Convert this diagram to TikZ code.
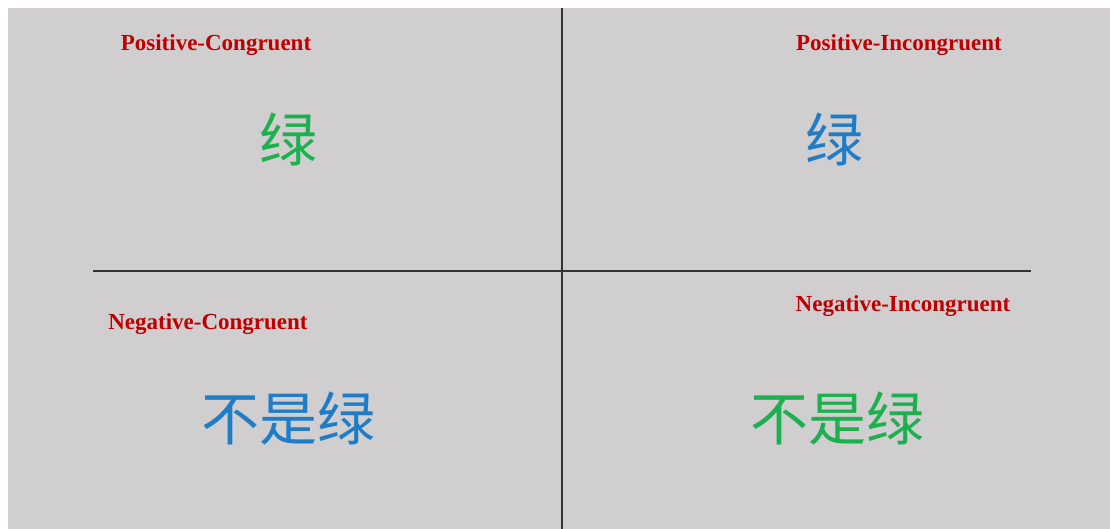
\documentclass[tikz,border=0pt]{standalone}
\usepackage{fontspec}
\setmainfont{Liberation Serif}
\newfontfamily\cjk{Noto Sans CJK SC}
\definecolor{bg}{HTML}{D0CECF}
\definecolor{lab}{HTML}{C00000}
\definecolor{grn}{HTML}{1DB04F}
\definecolor{blu}{HTML}{1F7DC8}
\begin{document}
\begin{tikzpicture}[x=1pt,y=-1pt,
  label/.style={text=lab,font=\fontsize{23}{26}\selectfont\bfseries,inner sep=0pt},
  word/.style={font=\fontsize{58}{62}\selectfont\cjk,inner sep=0pt},
  divider/.style={draw=black!80,line width=1.2pt}]
\useasboundingbox (0,0) rectangle (1110,529);
\fill[white] (0,0) rectangle (1110,529);
\fill[bg] (8,8) rectangle (1111,530);
\coordinate (vt) at (562,8);
\coordinate (vb) at (562,529);
\coordinate (hl) at (93,271);
\coordinate (hr) at (1031,271);
\draw[divider] (vt) -- (vb);
\draw[divider] (hl) -- (hr);
\node[label] (pc) at (216,45) {Positive-Congruent};
\node[label] (pi) at (899,45) {Positive-Incongruent};
\node[label] (nc) at (208,324) {Negative-Congruent};
\node[label] (ni) at (903,306) {Negative-Incongruent};
\node[word,text=grn] (w1) at (288,139) {绿};
\node[word,text=blu] (w2) at (834,139) {绿};
\node[word,text=blu] (w3) at (288,419) {不是绿};
\node[word,text=grn] (w4) at (837,419) {不是绿};
\end{tikzpicture}
\end{document}
